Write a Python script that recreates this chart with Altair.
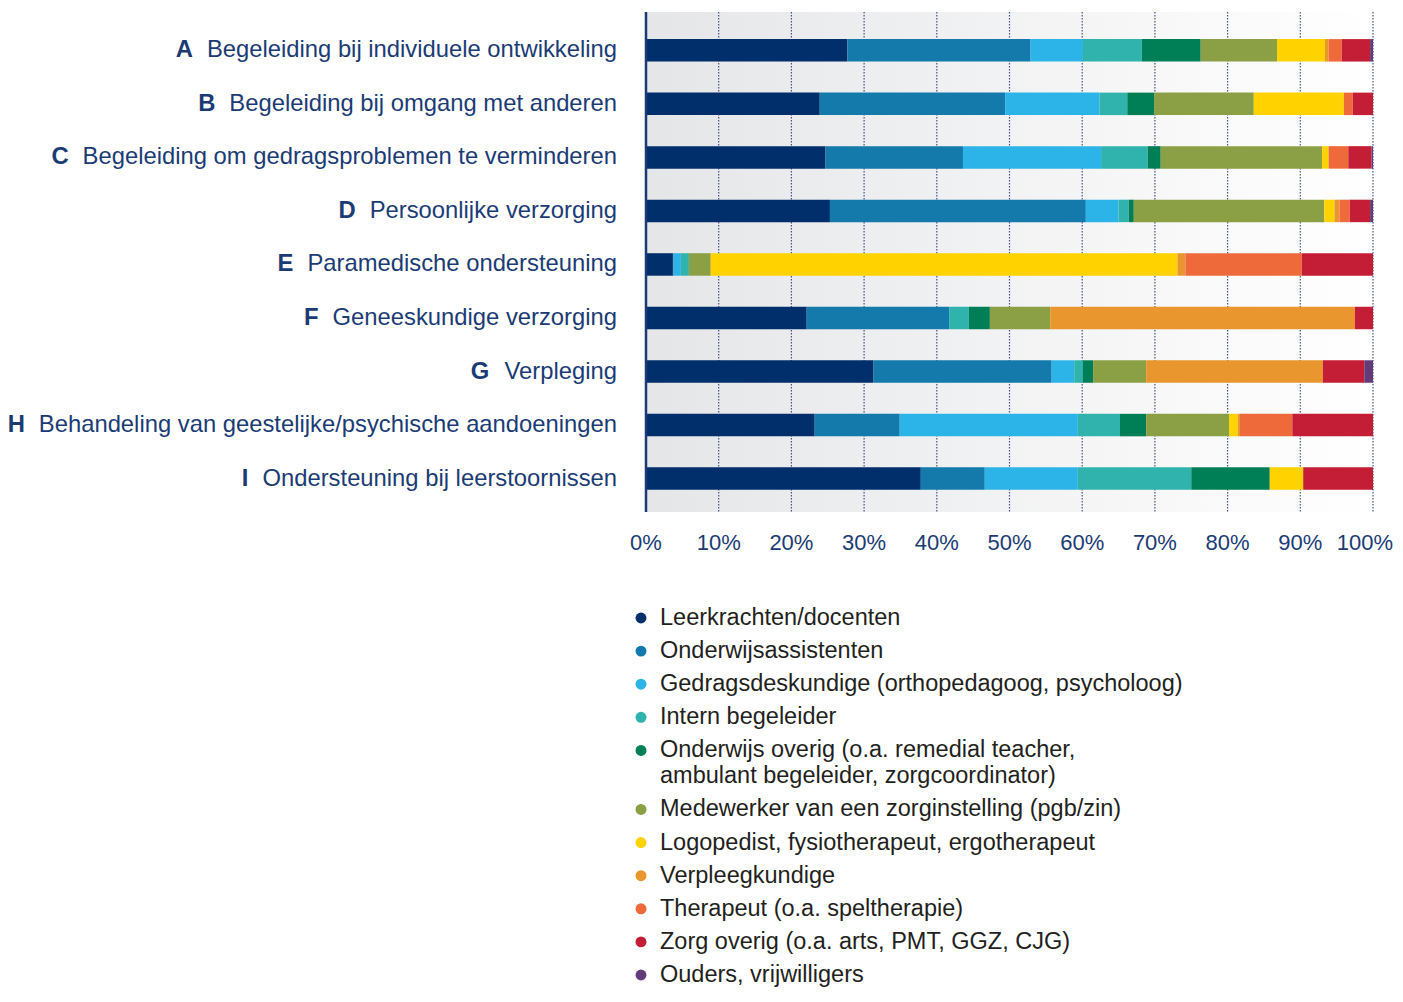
import altair as alt
import pandas as pd

# ---------------- data ----------------
letters = ["A", "B", "C", "D", "E", "F", "G", "H", "I"]
categories = [
    "Begeleiding bij individuele ontwikkeling",
    "Begeleiding bij omgang met anderen",
    "Begeleiding om gedragsproblemen te verminderen",
    "Persoonlijke verzorging",
    "Paramedische ondersteuning",
    "Geneeskundige verzorging",
    "Verpleging",
    "Behandeling van geestelijke/psychische aandoeningen",
    "Ondersteuning bij leerstoornissen",
]
series = [
    "Leerkrachten/docenten",
    "Onderwijsassistenten",
    "Gedragsdeskundige (orthopedagoog, psycholoog)",
    "Intern begeleider",
    "Onderwijs overig (o.a. remedial teacher, ambulant begeleider, zorgcoordinator)",
    "Medewerker van een zorginstelling (pgb/zin)",
    "Logopedist, fysiotherapeut, ergotherapeut",
    "Verpleegkundige",
    "Therapeut (o.a. speltherapie)",
    "Zorg overig (o.a. arts, PMT, GGZ, CJG)",
    "Ouders, vrijwilligers",
]
colors = ["#002f6c", "#137aab", "#2cb4e8", "#30b2ad", "#007f56", "#8ba045",
          "#ffd200", "#e8962d", "#ef6a3a", "#c41e36", "#623b78"]

row_a = [27.7, 25.2, 7.2, 8.1, 8.1, 10.5, 6.6, 0.5, 1.8, 3.9, 0.4]
row_b = [23.9, 25.5, 13.0, 3.8, 3.7, 13.7, 12.4, 0.0, 1.2, 2.8, 0.0]
row_c = [24.7, 18.9, 19.0, 6.4, 1.8, 22.2, 0.9, 0.0, 2.7, 3.2, 0.2]
row_d = [25.3, 35.2, 4.5, 1.4, 0.7, 26.2, 1.4, 0.7, 1.4, 2.8, 0.4]
row_e = [3.7, 0.1, 1.0, 1.1, 0.0, 3.0, 64.2, 1.1, 16.0, 9.8, 0.0]
row_f = [22.1, 19.6, 0.0, 2.7, 2.9, 8.3, 0.0, 41.9, 0.0, 2.5, 0.0]
row_g = [31.3, 24.5, 3.1, 1.2, 1.4, 7.3, 0.0, 24.3, 0.0, 5.7, 1.2]
row_h = [23.2, 11.7, 24.5, 5.8, 3.6, 11.4, 1.2, 0.3, 7.2, 11.1, 0.0]
row_i = [37.8, 8.8, 12.8, 15.6, 10.8, 0.0, 4.6, 0.0, 0.0, 9.6, 0.0]
rows = [row_a, row_b, row_c, row_d, row_e, row_f, row_g, row_h, row_i]

tick_values = [0, 10, 20, 30, 40, 50, 60, 70, 80, 90, 100]
legend_wrap = {
    series[4]: ["Onderwijs overig (o.a. remedial teacher,",
                "ambulant begeleider, zorgcoordinator)"],
}

# ---------------- style ----------------
NAVY = "#1b3b75"
TEXT = "#231f20"
FONT = "Liberation Sans"
FS = 23.8        # category labels
FS_LEG = 23.5    # legend
FS_TICK = 22     # x tick labels
W, H = 727, 500
CONT_STEP = 0.78  # line step of a wrapped legend line relative to an item step

# ---------------- tables ----------------
recs = []
for let, vals in zip(letters, rows):
    for si, (s, v) in enumerate(zip(series, vals)):
        recs.append({"letter": let, "series": s, "sidx": si, "pct": v})
bar_df = pd.DataFrame(recs)
label_df = pd.DataFrame({"letter": letters, "label": categories})
tick_df = pd.DataFrame({"tick": tick_values})
one_df = pd.DataFrame({"k": [0]})

leg = []
pos = 0.0
for i, s in enumerate(series):
    parts = legend_wrap.get(s, [s])
    if i > 0:
        pos += 1.0
    for j, p in enumerate(parts):
        if j > 0:
            pos += CONT_STEP
        leg.append({"pos": pos, "line": p, "series": s, "first": j == 0})
leg_df = pd.DataFrame(leg)
leg_max = pos

xsc = alt.Scale(domain=[0, 100], nice=False)
ysc = alt.Scale(type="band", domain=letters, paddingInner=0.58,
                paddingOuter=0.46, align=0.55)
legsc = alt.Scale(domain=[0, leg_max], range=[606, 963], zero=False, nice=False)
csc = alt.Scale(domain=series, range=colors)

# ---------------- layers ----------------
bg = alt.Chart(one_df).mark_rect(
    fill=alt.Gradient(
        gradient="linear",
        stops=[alt.GradientStop(color="#e5e6e8", offset=0),
               alt.GradientStop(color="#ffffff", offset=1)],
        x1=0, x2=1, y1=0, y2=0,
    )
).encode(x=alt.value(0), x2=alt.value(W), y=alt.value(0), y2=alt.value(H))

grid = alt.Chart(tick_df).transform_filter("datum.tick > 0").mark_rule(
    color="#27357a", strokeWidth=1.2, strokeDash=[1.5, 1.5], opacity=0.85
).encode(
    x=alt.X("tick:Q", scale=xsc, axis=None),
    y=alt.value(0), y2=alt.value(H),
)

tick_labels = alt.Chart(tick_df).transform_filter("datum.tick < 100").transform_calculate(
    lbl="datum.tick + '%'"
).mark_text(
    align="center", baseline="middle", font=FONT, fontSize=FS_TICK, color=NAVY
).encode(
    x=alt.X("tick:Q", scale=xsc, axis=None),
    y=alt.value(H + 31),
    text="lbl:N",
)

tick_last = alt.Chart(tick_df).transform_filter("datum.tick == 100").transform_calculate(
    lbl="datum.tick + '%'"
).mark_text(
    align="right", baseline="middle", font=FONT, fontSize=FS_TICK, color=NAVY, dx=20
).encode(
    x=alt.X("tick:Q", scale=xsc, axis=None),
    y=alt.value(H + 31),
    text="lbl:N",
)

bars = alt.Chart(bar_df).mark_bar().encode(
    x=alt.X("pct:Q", stack="zero", scale=xsc, axis=None),
    y=alt.Y("letter:N", scale=ysc, axis=None),
    color=alt.Color("series:N", scale=csc, legend=None),
    order=alt.Order("sidx:Q", sort="ascending"),
)

axis_line = alt.Chart(one_df).mark_rule(color=NAVY, strokeWidth=2.5).encode(
    x=alt.value(0), y=alt.value(0), y2=alt.value(H)
)

labels = alt.Chart(label_df).mark_text(
    align="right", baseline="middle", font=FONT, fontSize=FS, color=NAVY
).encode(
    x=alt.value(-29),
    y=alt.Y("letter:N", scale=ysc, axis=None, bandPosition=0.5),
    text="label:N",
)


def cnt(cls):
    return "length(replace(datum.label, regexp('[^" + cls + "]', 'g'), ''))"


widths = [("ijl", 222), ("tf /", 278), ("r", 333), ("ckszvxy", 500),
          ("w", 722), ("m", 833), ("BPV", 667), ("GO", 778)]
units = "556*length(datum.label)" + "".join(
    "+(" + str(w - 556) + ")*" + cnt(c) for c, w in widths)
lx_expr = "-43 - " + str(FS) + "/1000*(" + units + ")"

letter_marks = alt.Chart(label_df).transform_calculate(lx=lx_expr).mark_text(
    align="right", baseline="middle", font=FONT, fontSize=FS,
    fontWeight="bold", color=NAVY
).encode(
    x=alt.X("lx:Q", scale=None, axis=None),
    y=alt.Y("letter:N", scale=ysc, axis=None, bandPosition=0.5),
    text="letter:N",
)

leg_points = alt.Chart(leg_df).transform_filter("datum.first").mark_point(
    filled=True, shape="circle", size=120, opacity=1
).encode(
    x=alt.value(-5),
    y=alt.Y("pos:Q", scale=legsc, axis=None),
    color=alt.Color("series:N", scale=csc, legend=None),
)

leg_text = alt.Chart(leg_df).mark_text(
    align="left", baseline="middle", font=FONT, fontSize=FS_LEG, color=TEXT
).encode(
    x=alt.value(14),
    y=alt.Y("pos:Q", scale=legsc, axis=None),
    text="line:N",
)

chart = alt.layer(
    bg, grid, bars, axis_line, tick_labels, tick_last, labels, letter_marks,
    leg_points, leg_text
).resolve_scale(y="independent").properties(
    width=W, height=H,
    autosize=alt.AutoSizeParams(type="none"),
    padding={"left": 638, "top": 4, "right": 22, "bottom": 476},
).configure_view(stroke=None)

chart.save("out.html", embed_options={"renderer": "svg", "actions": False})
